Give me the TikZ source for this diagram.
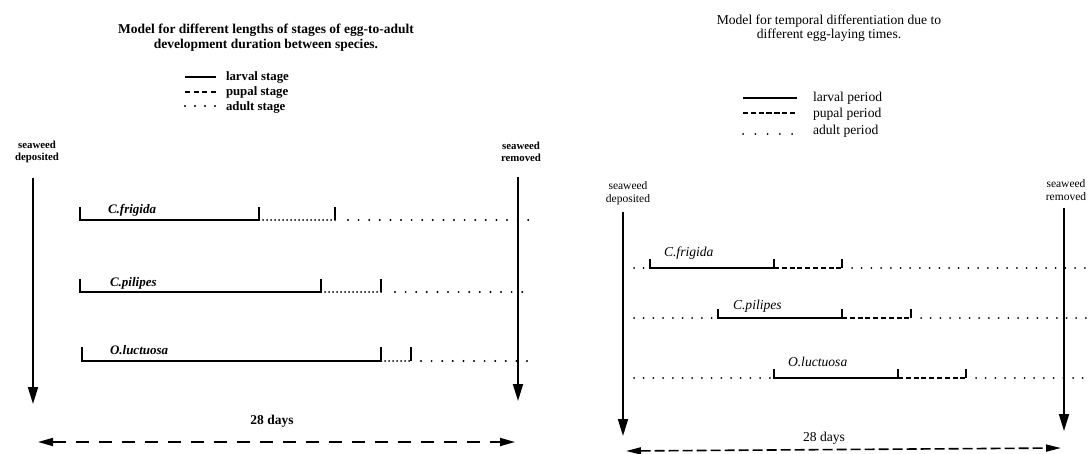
\documentclass[tikz,border=0pt]{standalone}
\usepackage{fontspec}
\setmainfont{Liberation Serif}
\usetikzlibrary{arrows.meta}
\begin{document}
\begin{tikzpicture}[x=1pt,y=-1pt,
  txt/.style={inner sep=0pt, outer sep=0pt},
  lfont/.style={font=\fontsize{12.8}{15}\selectfont\bfseries},
  ltfont/.style={font=\fontsize{13.5}{15}\selectfont\bfseries},
  lital/.style={font=\fontsize{13}{15}\selectfont\bfseries\itshape},
  rfont/.style={font=\fontsize{13.6}{14}\selectfont},
  rital/.style={font=\fontsize{13.6}{14}\selectfont\itshape},
  lsw/.style={font=\fontsize{10.8}{12.5}\selectfont\bfseries, align=center, inner sep=0pt},
  rsw/.style={font=\fontsize{11.5}{12.5}\selectfont, align=center, inner sep=0pt},
  larval/.style={line width=1.4pt},
  ldense/.style={line width=2pt, line cap=round, dash pattern=on 0pt off 4pt},
  lsparse/.style={line width=2.2pt, line cap=round, dash pattern=on 0pt off 10.6pt},
  rdots/.style={line width=2pt, line cap=round, dash pattern=on 0pt off 9.7pt},
  rpupal/.style={line width=1.4pt, dash pattern=on 5pt off 2.8pt},
  varrow/.style={line width=1.9pt, -{Triangle[length=17pt,width=10pt]}},
  dblL/.style={line width=1.7pt, dash pattern=on 13pt off 10pt, {Triangle[length=15pt,width=8pt]}-{Triangle[length=15pt,width=8pt]}},
  dblR/.style={line width=1.6pt, dash pattern=on 10pt off 4pt, {Triangle[length=15pt,width=7pt]}-{Triangle[length=15pt,width=7pt]}}
]
\useasboundingbox[fill=white] (0,0) rectangle (1092,454);

% ================= LEFT PANEL =================
\node[txt,ltfont,align=center] (ltitle) at (266,37.5) {Model for different lengths of stages of egg-to-adult\\ development duration between species.};

% legend
\coordinate (lg1a) at (185,77); \coordinate (lg1b) at (216,77);
\coordinate (lg2a) at (185,92); \coordinate (lg2b) at (216,92);
\coordinate (lg3a) at (185,106); \coordinate (lg3b) at (216,106);
\draw[line width=1.8pt] (lg1a) -- (lg1b);
\draw[line width=1.7pt, dash pattern=on 5pt off 3.7pt] (lg2a) -- (lg2b);
\draw[line width=2.2pt, line cap=round, dash pattern=on 0pt off 10pt] (lg3a) -- (lg3b);
\node[txt,lfont,anchor=west] (lgt1) at (226,77) {larval stage};
\node[txt,lfont,anchor=west] (lgt2) at (226,92) {pupal stage};
\node[txt,lfont,anchor=west] (lgt3) at (226,107) {adult stage};

% seaweed labels and arrows
\node[lsw] (ldep) at (37,152) {seaweed\\deposited};
\node[lsw] (lrem) at (521,152) {seaweed\\removed};
\coordinate (lva) at (33,178); \coordinate (lvb) at (33,404);
\coordinate (lwa) at (518,177); \coordinate (lwb) at (518,401);
\draw[varrow] (lva) -- (lvb);
\draw[varrow] (lwa) -- (lwb);

% C.frigida
\coordinate (f1) at (80,220); \coordinate (f2) at (259,220); \coordinate (f3) at (335,220);
\coordinate (f4) at (348,220); \coordinate (f5) at (531,220);
\draw[larval] (f1) ++(0,-13) -- (f1) -- (f2) -- ++(0,-13);
\draw[ldense] (f2) -- (f3);
\draw[larval] (f3) -- ++(0,-13);
\draw[lsparse] (f4) -- (f5);
\node[txt,lital,anchor=west] (lfr) at (108,210) {C.frigida};

% C.pilipes
\coordinate (p1) at (80,292); \coordinate (p2) at (321,292); \coordinate (p3) at (381,292);
\coordinate (p4) at (395,292); \coordinate (p5) at (529,292);
\draw[larval] (p1) ++(0,-13) -- (p1) -- (p2) -- ++(0,-13);
\draw[ldense] (p2) -- (p3);
\draw[larval] (p3) -- ++(0,-13);
\draw[lsparse] (p4) -- (p5);
\node[txt,lital,anchor=west] (lpi) at (110,283) {C.pilipes};

% O.luctuosa
\coordinate (o1) at (82,361); \coordinate (o2) at (381,361); \coordinate (o3) at (411,361);
\coordinate (o4) at (421,361); \coordinate (o5) at (532,361);
\draw[larval] (o1) ++(0,-14) -- (o1) -- (o2) -- ++(0,-14);
\draw[ldense] (o2) -- (o3);
\draw[larval] (o3) -- ++(0,-14);
\draw[lsparse] (o4) -- (o5);
\node[txt,lital,anchor=west] (llu) at (110,350) {O.luctuosa};

% 28 days
\node[txt,ltfont] (ldays) at (272,421) {28 days};
\coordinate (ld1) at (38,442); \coordinate (ld2) at (515,442);
\draw[dblL] (ld1) -- (ld2);

% ================= RIGHT PANEL =================
\node[txt,rfont,align=center] (rtitle) at (829,28) {Model for temporal differentiation due to\\ different egg-laying times.};

% legend
\coordinate (rg1a) at (743,98); \coordinate (rg1b) at (797,98);
\coordinate (rg2a) at (743,113); \coordinate (rg2b) at (797,113);
\coordinate (rg3a) at (743,134); \coordinate (rg3b) at (793,134);
\draw[line width=1.4pt] (rg1a) -- (rg1b);
\draw[line width=1.6pt, dash pattern=on 5.3pt off 2.5pt] (rg2a) -- (rg2b);
\draw[line width=2pt, line cap=round, dash pattern=on 0pt off 12.25pt] (rg3a) -- (rg3b);
\node[txt,rfont,anchor=west] (rgt1) at (813,98) {larval period};
\node[txt,rfont,anchor=west] (rgt2) at (813,114) {pupal period};
\node[txt,rfont,anchor=west] (rgt3) at (813,131) {adult period};

% seaweed labels and arrows
\node[rsw] (rdep) at (628,193) {seaweed\\deposited};
\node[rsw] (rrem) at (1066,190) {seaweed\\removed};
\coordinate (rva) at (623,212); \coordinate (rvb) at (623,436);
\coordinate (rwa) at (1064,208); \coordinate (rwb) at (1064,431);
\draw[varrow] (rva) -- (rvb);
\draw[varrow] (rwa) -- (rwb);

% C.frigida
\coordinate (a0) at (634,268); \coordinate (a1) at (650,268); \coordinate (a2) at (774,268);
\coordinate (a3) at (842,268); \coordinate (a4) at (852,268); \coordinate (a5) at (1092,268);
\draw[rdots] (a0) -- (a1);
\draw[larval] (a1) ++(0,-9) -- (a1) -- (a2) -- ++(0,-9);
\draw[rpupal] (a2) -- (a3);
\draw[larval] (a3) -- ++(0,-9);
\draw[rdots] (a4) -- (a5);
\node[txt,rital,anchor=west] (rfr) at (664,253) {C.frigida};

% C.pilipes
\coordinate (b0) at (634,318); \coordinate (b1) at (718,318); \coordinate (b2) at (842,318);
\coordinate (b3) at (911,318); \coordinate (b4) at (921,318); \coordinate (b5) at (1092,318);
\draw[rdots] (b0) -- (b1);
\draw[larval] (b1) ++(0,-9) -- (b1) -- (b2) -- ++(0,-9);
\draw[rpupal] (b2) -- (b3);
\draw[larval] (b3) -- ++(0,-9);
\draw[rdots] (b4) -- (b5);
\node[txt,rital,anchor=west] (rpi) at (733,306) {C.pilipes};

% O.luctuosa
\coordinate (c0) at (634,378); \coordinate (c1) at (774,378); \coordinate (c2) at (898,378);
\coordinate (c3) at (966,378); \coordinate (c4) at (976,378); \coordinate (c5) at (1092,378);
\draw[rdots] (c0) -- (c1);
\draw[larval] (c1) ++(0,-9) -- (c1) -- (c2) -- ++(0,-9);
\draw[rpupal] (c2) -- (c3);
\draw[larval] (c3) -- ++(0,-9);
\draw[rdots] (c4) -- (c5);
\node[txt,rital,anchor=west] (rlu) at (788,362) {O.luctuosa};

% 28 days
\node[txt,rfont] (rdays) at (824,438) {28 days};
\coordinate (rd1) at (626,451); \coordinate (rd2) at (1061,448);
\draw[dblR] (rd1) -- (rd2);
\end{tikzpicture}
\end{document}
